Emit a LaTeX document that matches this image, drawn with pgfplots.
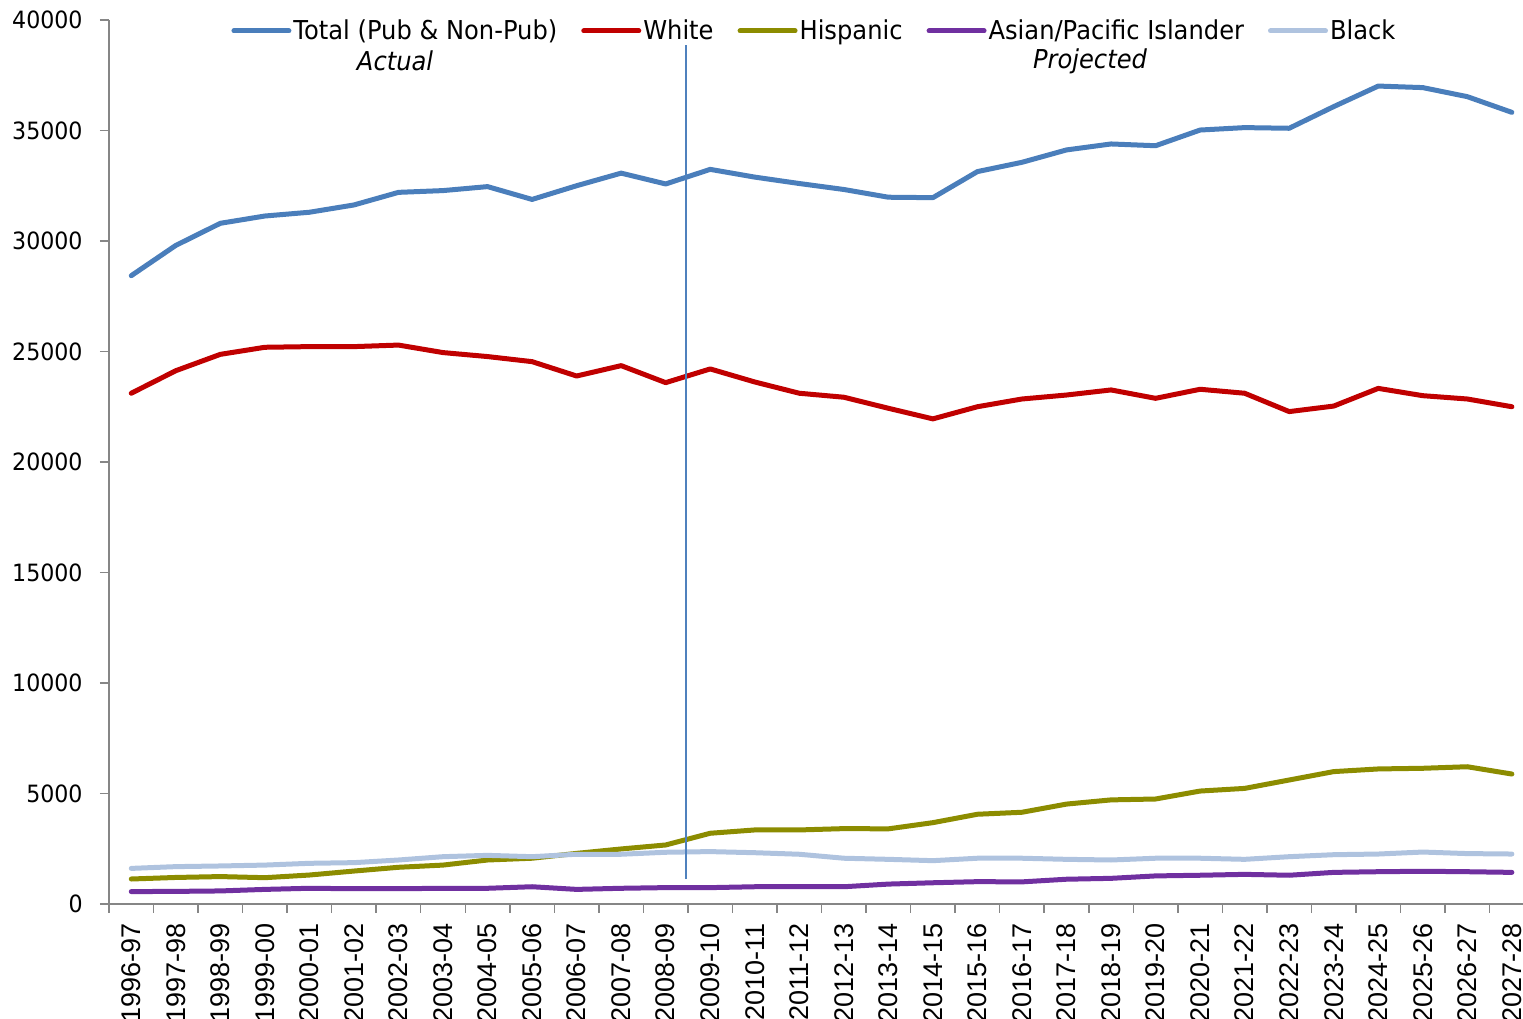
\documentclass[border=0pt]{standalone}
\usepackage{fontspec}
\setmainfont{DejaVu Sans}[FakeStretch=0.93]
\newfontfamily\xfont{Liberation Sans}
\usepackage{pgfplots}
\pgfplotsset{compat=1.18}
\usepackage{pgfplotstable}
\definecolor{cTot}{HTML}{4A7EBB}
\definecolor{cWhite}{HTML}{C00000}
\definecolor{cHisp}{HTML}{8C8C00}
\definecolor{cAsian}{HTML}{7030A0}
\definecolor{cBlack}{HTML}{AFC3DF}
\definecolor{axisgray}{HTML}{868686}
\definecolor{vline}{HTML}{4F81BD}

\pgfplotstableread{
x tot white hisp asian black
0  28430 23110 1130 560 1610
1  29800 24130 1200 570 1690
2  30800 24870 1240 590 1720
3  31130 25190 1190 660 1760
4  31300 25220 1310 710 1840
5  31630 25220 1490 690 1870
6  32200 25290 1660 690 1990
7  32280 24950 1760 710 2140
8  32460 24770 1990 710 2200
9  31880 24540 2070 780 2140
10 32500 23890 2290 660 2250
11 33070 24360 2490 710 2250
12 32580 23590 2670 740 2340
13 33240 24210 3200 740 2370
14 32890 23620 3350 780 2320
15 32600 23110 3350 780 2250
16 32330 22930 3410 780 2070
17 31980 22430 3400 900 2020
18 31960 21950 3680 960 1960
19 33140 22500 4060 1010 2070
20 33560 22850 4150 1000 2070
21 34120 23030 4520 1120 2020
22 34390 23260 4710 1160 1990
23 34310 22880 4750 1270 2070
24 35020 23290 5110 1300 2070
25 35130 23110 5230 1340 2020
26 35100 22280 5610 1300 2140
27 36080 22530 5990 1430 2230
28 37010 23330 6110 1460 2260
29 36940 23000 6140 1480 2350
30 36530 22850 6210 1460 2280
31 35820 22500 5880 1430 2260
}\data

\begin{document}
\begin{tikzpicture}
\begin{axis}[name=ax, scale only axis, width=707pt, height=442pt,
  xmin=-0.5, xmax=31.25, ymin=0, ymax=40000,
  axis x line*=bottom, axis y line*=left,
  axis line style={-, draw=axisgray, line width=0.75pt},
  tick align=outside, major tick length=4.5pt, minor tick length=4.5pt,
  xtick={0,...,31},
  xticklabels={1996-97,1997-98,1998-99,1999-00,2000-01,2001-02,2002-03,2003-04,2004-05,2005-06,2006-07,2007-08,2008-09,2009-10,2010-11,2011-12,2012-13,2013-14,2014-15,2015-16,2016-17,2017-18,2018-19,2019-20,2020-21,2021-22,2022-23,2023-24,2024-25,2025-26,2026-27,2027-28},
  major x tick style={draw=none},
  minor xtick={-0.5,0.5,...,30.5},
  minor x tick style={draw=axisgray, line width=0.75pt},
  ytick={0,5000,10000,15000,20000,25000,30000,35000,40000},
  yticklabels={0,5000,10000,15000,20000,25000,30000,35000,40000},
  y tick style={draw=axisgray, line width=0.75pt},
  xticklabel shift=5pt,
  yticklabel shift=8.5pt,
  xticklabel style={font={\xfont\fontsize{13.5pt}{13.5pt}\selectfont}, rotate=90, anchor=east, inner sep=0pt},
  yticklabel style={font={\fontsize{11.9pt}{11.9pt}\selectfont}, anchor=east, inner sep=0pt},
  legend columns=5,
  legend style={at={(0.0863,0.9876)}, anchor=west, draw=none, fill=none, inner sep=0pt,
    font={\fontsize{13pt}{13pt}\selectfont},
    nodes={inner xsep=1pt, inner ysep=0pt},
    /tikz/every even column/.append style={column sep=11pt}},
  legend cell align=left,
  legend image code/.code={\draw[#1, line cap=round] (0pt,0pt) -- (27.5pt,0pt);},
  every axis plot/.append style={line width=2.5pt, line join=round, line cap=round, no markers},
]
\addplot[cTot] table[x=x, y=tot] {\data};
\addlegendentry{Total (Pub \& Non-Pub)}
\addplot[cWhite] table[x=x, y=white] {\data};
\addlegendentry{White}
\addplot[cHisp] table[x=x, y=hisp] {\data};
\addlegendentry{Hispanic}
\addplot[cAsian] table[x=x, y=asian] {\data};
\addlegendentry{Asian/Pacific Islander}
\addplot[cBlack] table[x=x, y=black] {\data};
\addlegendentry{Black}
\draw[vline, line width=0.8pt] (axis cs:12.45,1130) -- (axis cs:12.45,38870);
\node[font={\itshape\fontsize{13pt}{13pt}\selectfont}] at (rel axis cs:0.2023,0.9536) {Actual};
\node[font={\itshape\fontsize{13pt}{13pt}\selectfont}] at (rel axis cs:0.6938,0.9536) {Projected};
\end{axis}
\pgfresetboundingbox
\path[use as bounding box] ([xshift=-54.5pt,yshift=-57.5pt]ax.south west) rectangle ([yshift=10pt]ax.north east);
\end{tikzpicture}
\end{document}
